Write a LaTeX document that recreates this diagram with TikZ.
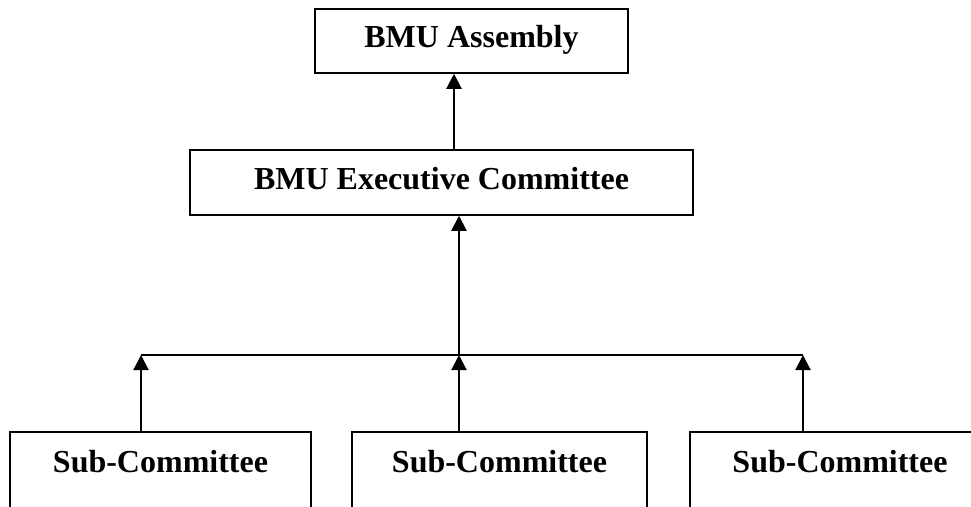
\documentclass[tikz,border=0pt]{standalone}
\usepackage{fontspec}
\setmainfont{Liberation Serif}
\usetikzlibrary{arrows.meta}
\begin{document}
\begin{tikzpicture}[x=1pt,y=-1pt,
  box/.style={draw=black,line width=1.5pt,inner sep=0pt,
    font=\fontsize{32}{38}\selectfont\bfseries},
  arr/.style={line width=2pt,-{Triangle[width=15pt,length=15pt]}},
  busline/.style={line width=2pt}]
\clip (0,0) rectangle (971,506);
\fill[white] (0,0) rectangle (971,506);
% boxes
\node[box,minimum width=313pt,minimum height=64pt,text height=22pt,text depth=10pt] (top) at (471.5,41) {BMU Assembly};
\node[box,minimum width=503pt,minimum height=65pt,text height=22pt,text depth=8pt] (exec) at (441.5,182.5) {BMU Executive Committee};
\node[box,anchor=north,minimum width=301pt,text height=41pt,text depth=90pt] (sub1) at (160.5,431) {Sub-Committee};
\node[box,anchor=north,minimum width=295pt,text height=41pt,text depth=90pt] (sub2) at (499.5,431) {Sub-Committee};
\node[box,anchor=north,minimum width=300pt,text height=41pt,text depth=90pt] (sub3) at (840,431) {Sub-Committee};
% connector points
\coordinate (up) at (454,110);
\coordinate (busL) at (141,355);
\coordinate (busM) at (459,355);
\coordinate (busR) at (803,355);
% connectors
\draw[arr] (up |- exec.north) -- (up |- top.south);
\draw[busline] (busL) -- (busR);
\draw[arr] (busM) -- (busM |- exec.south);
\draw[arr] (busL |- sub1.north) -- (busL);
\draw[arr] (busM |- sub2.north) -- (busM);
\draw[arr] (busR |- sub3.north) -- (busR);
\end{tikzpicture}
\end{document}
